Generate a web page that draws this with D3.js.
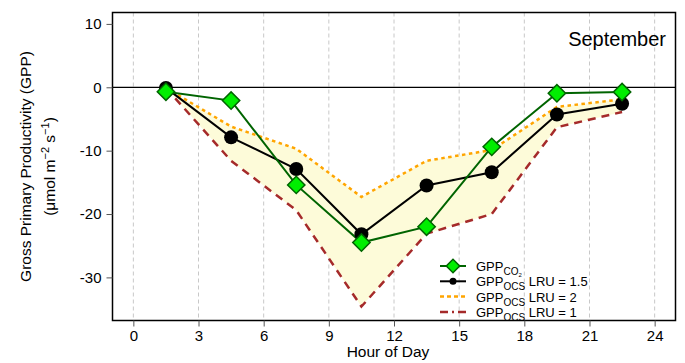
<!DOCTYPE html>
<html>
<head>
<meta charset="utf-8">
<script src="https://cdn.jsdelivr.net/npm/d3@7"></script>
<style>
  body { margin: 0; background: #fff; }
  svg { font-family: "Liberation Sans", Arial, sans-serif; }
</style>
</head>
<body>
<svg id="chart" width="685" height="363"></svg>
<script>
// hour of day (bin centres)
var hours = [1.5, 4.5, 7.5, 10.5, 13.5, 16.5, 19.5, 22.5];
// GPP from CO2
var gppCO2 = [-0.7, -2.1, -15.4, -24.5, -22.0, -9.4, -0.95, -0.75];
// GPP from OCS, LRU = 1.5
var gppOCS15 = [-0.1, -7.9, -12.9, -23.2, -15.5, -13.4, -4.3, -2.6];
// GPP from OCS, LRU = 2
var gppOCS2 = [-0.1, -6.2, -9.7, -17.3, -11.6, -9.9, -3.1, -1.9];
// GPP from OCS, LRU = 1
var gppOCS1 = [-0.1, -11.6, -19.4, -34.6, -23.1, -20.0, -6.3, -3.9];

var xTicks = [0, 3, 6, 9, 12, 15, 18, 21, 24];
var yTicks = [10, 0, -10, -20, -30];

var svg = d3.select("#chart");
var pLeft = 112.5, pRight = 675.5, pTop = 12.5, pBottom = 320.5;

var x = d3.scaleLinear().domain([-0.96, 24.96]).range([pLeft, pRight]);
var y = d3.scaleLinear().domain([-36.8, 11.8]).range([pBottom, pTop]);

// vertical dashed grid
svg.append("g").selectAll("line")
    .data(xTicks)
  .enter().append("line")
    .attr("x1", function(d) { return x(d); })
    .attr("x2", function(d) { return x(d); })
    .attr("y1", pTop)
    .attr("y2", pBottom)
    .attr("stroke", "#c8c8c8")
    .attr("stroke-width", 1)
    .attr("stroke-dasharray", "4,3");

var pts = hours.map(function(h, i) {
  return {h: h, co2: gppCO2[i], o15: gppOCS15[i], o2: gppOCS2[i], o1: gppOCS1[i]};
});

// shaded band between LRU = 1 and LRU = 2
var band = d3.area()
    .x(function(d) { return x(d.h); })
    .y0(function(d) { return y(d.o1); })
    .y1(function(d) { return y(d.o2); });

svg.append("path")
    .datum(pts)
    .attr("d", band)
    .attr("fill", "#fdfbd9");

// zero line
svg.append("line")
    .attr("x1", pLeft).attr("x2", pRight)
    .attr("y1", y(0)).attr("y2", y(0))
    .attr("stroke", "#000")
    .attr("stroke-width", 1.2);

var line = function(key) {
  return d3.line()
      .x(function(d) { return x(d.h); })
      .y(function(d) { return y(d[key]); });
};

svg.append("path").datum(pts)
    .attr("d", line("o2"))
    .attr("fill", "none")
    .attr("stroke", "orange")
    .attr("stroke-width", 2.5)
    .attr("stroke-dasharray", "3.5,3.5");

svg.append("path").datum(pts)
    .attr("d", line("o1"))
    .attr("fill", "none")
    .attr("stroke", "#a52a2a")
    .attr("stroke-width", 2.5)
    .attr("stroke-dasharray", "8,6");

svg.append("path").datum(pts)
    .attr("d", line("o15"))
    .attr("fill", "none")
    .attr("stroke", "#000")
    .attr("stroke-width", 2);

svg.append("path").datum(pts)
    .attr("d", line("co2"))
    .attr("fill", "none")
    .attr("stroke", "#006400")
    .attr("stroke-width", 2);

svg.append("g").selectAll("circle")
    .data(pts)
  .enter().append("circle")
    .attr("cx", function(d) { return x(d.h); })
    .attr("cy", function(d) { return y(d.o15); })
    .attr("r", 7)
    .attr("fill", "#000");

var diamond = d3.symbol().type(d3.symbolSquare).size(150);

svg.append("g").selectAll("path")
    .data(pts)
  .enter().append("path")
    .attr("d", diamond)
    .attr("transform", function(d) { return "translate(" + x(d.h) + "," + y(d.co2) + ") rotate(45)"; })
    .attr("fill", "#00ee00")
    .attr("stroke", "#006400")
    .attr("stroke-width", 1.5);

// box
svg.append("rect")
    .attr("x", pLeft).attr("y", pTop)
    .attr("width", pRight - pLeft).attr("height", pBottom - pTop)
    .attr("fill", "none")
    .attr("stroke", "#000")
    .attr("stroke-width", 1.5);

// axes
var yAxis = svg.append("g")
    .attr("transform", "translate(" + pLeft + ",0)")
    .call(d3.axisLeft(y).tickValues(yTicks).tickSize(6).tickPadding(5));
var xAxis = svg.append("g")
    .attr("transform", "translate(0," + pBottom + ")")
    .call(d3.axisBottom(x).tickValues(xTicks).tickSize(6).tickPadding(4));

[xAxis, yAxis].forEach(function(a) {
  a.select(".domain").remove();
  a.selectAll("text").attr("font-size", 15).attr("fill", "#000")
      .attr("font-family", "Liberation Sans, Arial, sans-serif");
  a.selectAll("line").attr("stroke", "#555");
});
yAxis.selectAll("text").text(function(d) { return d; });

// axis titles
svg.append("text")
    .attr("x", (pLeft + pRight) / 2 - 6)
    .attr("y", 357)
    .attr("text-anchor", "middle")
    .attr("font-size", 15.5)
    .text("Hour of Day");

var yl = svg.append("g")
    .attr("transform", "translate(31," + ((pTop + pBottom) / 2) + ") rotate(-90)");
yl.append("text")
    .attr("text-anchor", "middle")
    .attr("font-size", 15.5)
    .text("Gross Primary Productivity (GPP)");
var yl2 = yl.append("text")
    .attr("y", 24)
    .attr("text-anchor", "middle")
    .attr("font-size", 15.5);
yl2.append("tspan").text("(\u03bcmol m");
yl2.append("tspan").attr("dy", -6).attr("font-size", 11).text("\u22122");
yl2.append("tspan").attr("dy", 6).text(" s");
yl2.append("tspan").attr("dy", -6).attr("font-size", 11).text("\u22121");
yl2.append("tspan").attr("dy", 6).text(")");

// month label
svg.append("text")
    .attr("x", 666)
    .attr("y", 46)
    .attr("text-anchor", "end")
    .attr("font-size", 20)
    .text("September");

// legend
var legendNames = ["CO2", "OCS15", "OCS2", "OCS1"];
var legendLabels = [["CO", "2", ""], ["OCS", "", " LRU = 1.5"], ["OCS", "", " LRU = 2"], ["OCS", "", " LRU = 1"]];
var legendStyles = [
  {stroke: "#006400", dash: null, w: 2},
  {stroke: "#000", dash: null, w: 2},
  {stroke: "orange", dash: "4,3", w: 2.5},
  {stroke: "#a52a2a", dash: "8,4,2,4", w: 2.5}
];
var lg = svg.append("g");
var rowY = function(i) { return 266 + i * 15.3; };

legendNames.forEach(function(n, i) {
  var s = legendStyles[i];
  lg.append("line")
      .attr("x1", 440).attr("x2", 466)
      .attr("y1", rowY(i)).attr("y2", rowY(i))
      .attr("stroke", s.stroke)
      .attr("stroke-width", s.w)
      .attr("stroke-dasharray", s.dash);
  if (i === 0) {
    lg.append("path")
        .attr("d", d3.symbol().type(d3.symbolSquare).size(90))
        .attr("transform", "translate(453," + rowY(i) + ") rotate(45)")
        .attr("fill", "#00ee00")
        .attr("stroke", "#006400")
        .attr("stroke-width", 1.5);
  }
  if (i === 1) {
    lg.append("circle")
        .attr("cx", 453).attr("cy", rowY(i)).attr("r", 3.5)
        .attr("fill", "#000");
  }
  var lab = legendLabels[i];
  var t = lg.append("text")
      .attr("x", 476)
      .attr("y", rowY(i) + 5)
      .attr("font-size", 13);
  t.append("tspan").text("GPP");
  t.append("tspan").attr("dy", 4).attr("font-size", 10).text(lab[0]);
  if (lab[1]) {
    t.append("tspan").attr("dy", 2).attr("font-size", 6).text(lab[1]);
  } else {
    t.append("tspan").attr("dy", -4).text(lab[2]);
  }
});
</script>
</body>
</html>
